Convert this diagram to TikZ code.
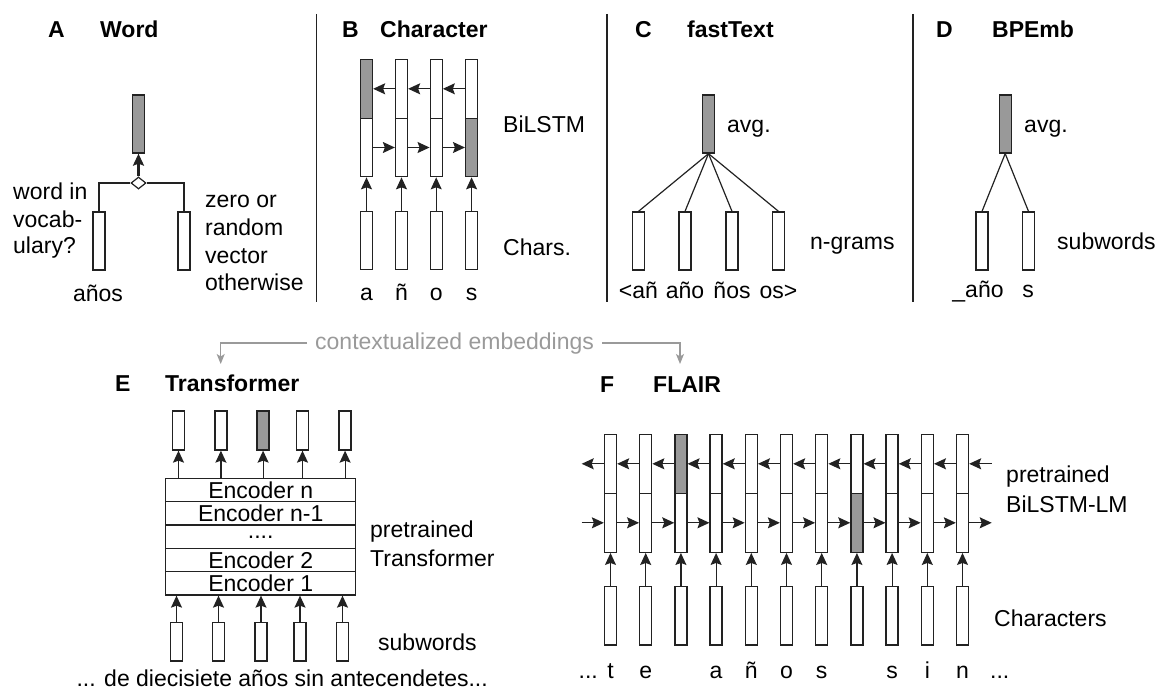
\documentclass[tikz,border=0pt]{standalone}
\usepackage{fontspec}
\setmainfont{Liberation Sans}
\usetikzlibrary{arrows.meta,shapes.geometric}
\definecolor{vecgray}{HTML}{999999}
\definecolor{ctxgray}{HTML}{9A9A9A}
\definecolor{edge}{HTML}{222222}

\begin{document}
\begin{tikzpicture}[x=1pt,y=-1pt,
  every node/.style={font=\fontsize{23}{28}\selectfont, inner sep=0pt},
  vec/.style={draw=edge, line width=1.3pt, fill=white, minimum width=12pt,
              minimum height=58pt, inner sep=0pt},
  hot/.style={fill=vecgray},
  plain/.style={},
  arr/.style={draw=edge, line width=1.2pt, -{Stealth[length=12pt,width=11pt,inset=2pt]}},
  link/.style={draw=edge, line width=1.2pt},
  garr/.style={draw=ctxgray, line width=1.2pt, -{Stealth[length=10pt,width=8pt,inset=2.5pt]}},
  sep/.style={draw=edge, line width=1.3pt},
  title/.style={anchor=base west, font=\fontsize{23}{28}\selectfont\bfseries},
  lbl/.style={anchor=base west},
  tok/.style={anchor=base},
  enc/.style={draw=edge, line width=1.3pt, fill=white, minimum width=190pt,
              minimum height=23.33pt, inner sep=0pt, text height=17pt, text depth=0pt}
]
\useasboundingbox (0,0) rectangle (1162,695);

% ---------------- A: word lookup ----------------
\node[title] (tA) at (48,38) {A};
\node[title] (tAname) at (100,38) {Word};
\node[vec,hot] (aOut) at (138.5,124) {};
\node[vec] (aIn) at (99,241) {};
\node[vec] (aZero) at (184,241) {};
\node[draw=edge, diamond, aspect=1.2, minimum width=15pt, minimum height=12pt,
      fill=white, line width=1.2pt] (aSel) at (138.5,183) {};
\draw[link] (aIn.north) |- (aSel.west);
\draw[link] (aZero.north) |- (aSel.east);
\draw[arr, line width=2.2pt] (aSel.north) -- (aOut.south);
\node[lbl] (aQ1) at (13,200) {word in};
\node[lbl] (aQ2) at (13,227.5) {vocab-};
\node[lbl] (aQ3) at (13,254) {ulary?};
\node[lbl] (aZ1) at (205,208) {zero or};
\node[lbl] (aZ2) at (205,235.5) {random};
\node[lbl] (aZ3) at (205,263) {vector};
\node[lbl] (aZ4) at (205,290.5) {otherwise};
\node[tok] (aTok) at (98,301) {años};

% panel separators
\draw[sep] (316.7,14) -- (316.7,302);
\draw[sep] (607,14) -- (607,302);
\draw[sep] (913,14) -- (913,302);

% ---------------- B: character BiLSTM ----------------
\node[title] (tB) at (342,38) {B};
\node[title] (tBname) at (380,38) {Character};
\foreach \i/\x/\su/\sl/\c in {1/366.5/hot/plain/a, 2/401.5/plain/plain/ñ,
                             3/436.2/plain/plain/o, 4/471.6/plain/hot/s} {
  \node[vec,\su,minimum height=59pt] (bU\i) at (\x,88.8) {};
  \node[vec,\sl,minimum height=58.4pt] (bL\i) at (\x,147.5) {};
  \node[vec] (bC\i) at (\x,240.8) {};
  \draw[arr] (bC\i.north) -- (bL\i.south);
  \node[tok] (bT\i) at (\x,300) {\c};
}
\foreach \i/\j in {1/2,2/3,3/4} {
  \draw[arr] (bL\i.east) -- (bL\j.west);
  \draw[arr] (bU\j.west) -- (bU\i.east);
}
\node[lbl] (bLstm) at (503,133) {BiLSTM};
\node[lbl] (bChars) at (503,255) {Chars.};

% ---------------- C: fastText ----------------
\node[title] (tC) at (635,38) {C};
\node[title] (tCname) at (687,38) {fastText};
\node[vec,hot] (cOut) at (708.5,124) {};
\foreach \i/\x/\t in {1/638.5/<añ, 2/685/año, 3/732/ños, 4/778.5/os>} {
  \node[vec] (cG\i) at (\x,241) {};
  \draw[link] (cOut.south) -- (cG\i.north);
  \node[tok] (cT\i) at (\x,298) {\t};
}
\node[lbl] (cAvg) at (727,133) {avg.};
\node[lbl] (cGrams) at (810,250) {n-grams};

% ---------------- D: BPEmb ----------------
\node[title] (tD) at (936,38) {D};
\node[title] (tDname) at (992,38) {BPEmb};
\node[vec,hot] (dOut) at (1005.2,124) {};
\node[vec] (dS1) at (982,241) {};
\node[vec] (dS2) at (1028.5,241) {};
\draw[link] (dOut.south) -- (dS1.north);
\draw[link] (dOut.south) -- (dS2.north);
\node[tok] (dT1) at (978,297) {\_año};
\node[tok] (dT2) at (1028,297) {s};
\node[lbl] (dAvg) at (1024,133) {avg.};
\node[lbl] (dSub) at (1057,250) {subwords};

% ---------------- contextualized embeddings ----------------
\node[anchor=base west, text=ctxgray, inner xsep=8pt] (ctx) at (307,349) {contextualized embeddings};
\coordinate (eHook) at (220.7,364);
\coordinate (fHook) at (680,364);
\draw[garr] (ctx.west) -| (eHook);
\draw[garr] (ctx.east) -| (fHook);

% ---------------- E: Transformer ----------------
\node[title] (tE) at (115,391) {E};
\node[title] (tEname) at (165,391) {Transformer};
\foreach \i/\y/\t/\h in {5/490/{Encoder n}/17pt, 4/513.33/{Encoder n-1}/17pt,
                         3/536.67/{....}/4pt, 2/560/{Encoder 2}/17pt, 1/583.33/{Encoder 1}/17pt} {
  \node[enc, text height=\h] (enc\i) at (260.7,\y) {\t};
}
\foreach \i/\x/\s in {1/178.5/plain, 2/220.9/plain, 3/263.1/hot, 4/302.5/plain, 5/345.1/plain} {
  \node[vec,\s,minimum height=39pt] (eO\i) at (\x,430.5) {};
  \draw[arr] (eO\i.south |- enc5.north) -- (eO\i.south);
}
\foreach \i/\x in {1/176.5, 2/218.5, 3/261, 4/300, 5/342.5} {
  \node[vec,minimum height=38.7pt] (eI\i) at (\x,641.7) {};
  \draw[arr] (eI\i.north) -- (eI\i.north |- enc1.south);
}
\node[lbl] (ePre) at (370,537) {pretrained};
\node[lbl] (eTr) at (370,566) {Transformer};
\node[lbl] (eSub) at (378,650) {subwords};
\node[anchor=base east] (eSent) at (488,686) {... de diecisiete años sin antecendetes...};

% ---------------- F: FLAIR ----------------
\node[title] (tF) at (600,392) {F};
\node[title] (tFname) at (653,392) {FLAIR};
\foreach \i/\su/\sl/\c in {1/plain/plain/t, 2/plain/plain/e, 3/hot/plain/{},
                           4/plain/plain/a, 5/plain/plain/ñ, 6/plain/plain/o,
                           7/plain/plain/s, 8/plain/hot/{}, 9/plain/plain/s,
                           10/plain/plain/i, 11/plain/plain/n} {
  \pgfmathsetmacro\x{610.5+35.2*(\i-1)}
  \node[vec,\su,minimum height=59pt] (fU\i) at (\x,463.8) {};
  \node[vec,\sl,minimum height=59pt] (fL\i) at (\x,522.8) {};
  \node[vec,minimum height=58.3pt] (fC\i) at (\x,615.8) {};
  \draw[arr] (fC\i.north) -- (fL\i.south);
  \node[tok] (fT\i) at (\x,678) {\c};
}
\foreach \i in {1,...,10} {
  \pgfmathtruncatemacro\j{\i+1}
  \draw[arr] (fL\i.east) -- (fL\j.west);
  \draw[arr] (fU\j.west) -- (fU\i.east);
}
\coordinate (fInL) at (581.7,522.8);
\coordinate (fOutL) at (581.7,463.8);
\coordinate (fInR) at (991.7,463.8);
\coordinate (fOutR) at (991.7,522.8);
\draw[arr] (fInL) -- (fL1.west);
\draw[arr] (fU1.west) -- (fOutL);
\draw[arr] (fInR) -- (fU11.east);
\draw[arr] (fL11.east) -- (fOutR);
\node[anchor=base east] (fDotsL) at (598,678) {...};
\node[anchor=base west] (fDotsR) at (990,678) {...};
\node[lbl] (fPre) at (1006,482) {pretrained};
\node[lbl] (fLm) at (1006,512) {BiLSTM-LM};
\node[lbl] (fChars) at (994,626) {Characters};
\end{tikzpicture}
\end{document}
